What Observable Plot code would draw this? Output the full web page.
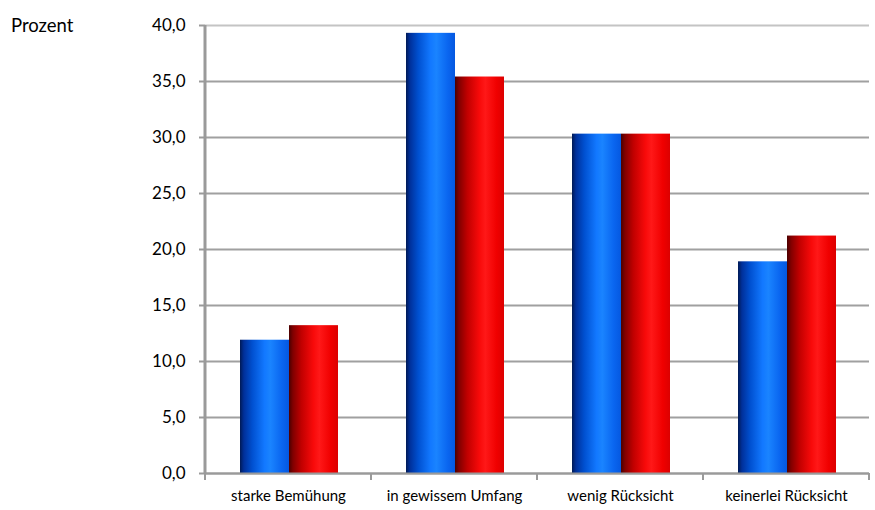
<!DOCTYPE html>
<html><head><meta charset="utf-8">
<script src="https://cdn.jsdelivr.net/npm/d3@7"></script>
<script src="https://cdn.jsdelivr.net/npm/@observablehq/plot@0.6"></script>
<style>
body{margin:0;background:#fff}
#wrap{position:relative;width:875px;height:510px}
#ylab{position:absolute;left:11px;top:14px;font:18.5px Lato, sans-serif;line-height:22px;color:#000}
svg{display:block}
</style>
</head><body>
<div id="wrap"><div id="ylab">Prozent</div></div>
<script>
const categories = ["starke Bemühung", "in gewissem Umfang", "wenig Rücksicht", "keinerlei Rücksicht"];
const seriesNames = ["Reihe 1", "Reihe 2"];
const blueValues = [11.9, 39.3, 30.3, 18.9];
const redValues = [13.2, 35.4, 30.3, 21.2];
const yTicks = [0, 5, 10, 15, 20, 25, 30, 35, 40];

const rows = [];
categories.forEach((c, i) => {
  rows.push({cat: c, series: seriesNames[0], value: blueValues[i]});
  rows.push({cat: c, series: seriesNames[1], value: redValues[i]});
});

const fmt = d => d.toFixed(1).replace(".", ",");

const chart = Plot.plot({
  width: 875,
  height: 510,
  marginLeft: 203,
  marginRight: 5,
  marginTop: 25,
  marginBottom: 37,
  style: {fontFamily: "Lato, sans-serif", fontSize: "16px", color: "#000", background: "#fff"},
  fx: {domain: categories, padding: 0, label: null},
  x: {domain: seriesNames, paddingInner: 0, paddingOuter: 0.69, align: 0.52, axis: null},
  y: {domain: [0, 40], label: null},
  marks: [
    Plot.gridY(yTicks.slice(0, -1), {stroke: "#a0a0a0", strokeOpacity: 1, strokeWidth: 2}),
    Plot.gridY([40], {stroke: "#c4c4c4", strokeOpacity: 1, strokeWidth: 2}),
    Plot.barY(rows.filter(d => d.series === seriesNames[0]), {fx: "cat", x: "series", y: "value", fill: "url(#gBlue)", inset: 0}),
    Plot.barY(rows.filter(d => d.series === seriesNames[1]), {fx: "cat", x: "series", y: "value", fill: "url(#gRed)", inset: 0}),
    Plot.ruleY([0], {stroke: "#9a9a9a", strokeWidth: 2}),
    Plot.axisY({ticks: yTicks, tickFormat: fmt, tickSize: 6, tickPadding: 14, stroke: "#9a9a9a", strokeWidth: 2, label: null, fontSize: 17, fill: "#000"}),
    Plot.axisFx({anchor: "bottom", tickSize: 0, tickPadding: 17, label: null, fontSize: 15, fill: "#000"})
  ]
});

const svg = d3.select(chart);
const defs = svg.insert("defs", ":first-child");
function grad(id, stops) {
  const g = defs.append("linearGradient").attr("id", id).attr("x1", "0").attr("x2", "1").attr("y1", "0").attr("y2", "0");
  stops.forEach(([o, c]) => g.append("stop").attr("offset", o).attr("stop-color", c));
}
grad("gBlue", [[0, "#001a55"], [0.08, "#00309a"], [0.25, "#0050d0"], [0.5, "#1278ff"], [0.62, "#1a84ff"], [0.85, "#0a66f0"], [1, "#0558e0"]]);
grad("gRed", [[0, "#4a0000"], [0.08, "#800000"], [0.25, "#c00000"], [0.5, "#f80a0a"], [0.62, "#ff1818"], [0.85, "#f00000"], [1, "#dc0000"]]);

// axis lines: left vertical line and category boundary ticks, from the fx scale
const fx = chart.scale("fx");
const y = chart.scale("y");
const y0 = y.apply(0), yTop = y.apply(40);
const bounds = categories.map(c => fx.apply(c));
bounds.push(fx.apply(categories[categories.length - 1]) + fx.bandwidth);
const g = svg.append("g").attr("stroke", "#9a9a9a").attr("stroke-width", 2);
g.append("line").attr("x1", bounds[0]).attr("x2", bounds[0]).attr("y1", yTop).attr("y2", y0 + 1).attr("stroke-width", 3);
bounds.forEach(b => g.append("line").attr("x1", b).attr("x2", b).attr("y1", y0).attr("y2", y0 + 7));

document.getElementById("wrap").appendChild(chart);
</script>
</body></html>
